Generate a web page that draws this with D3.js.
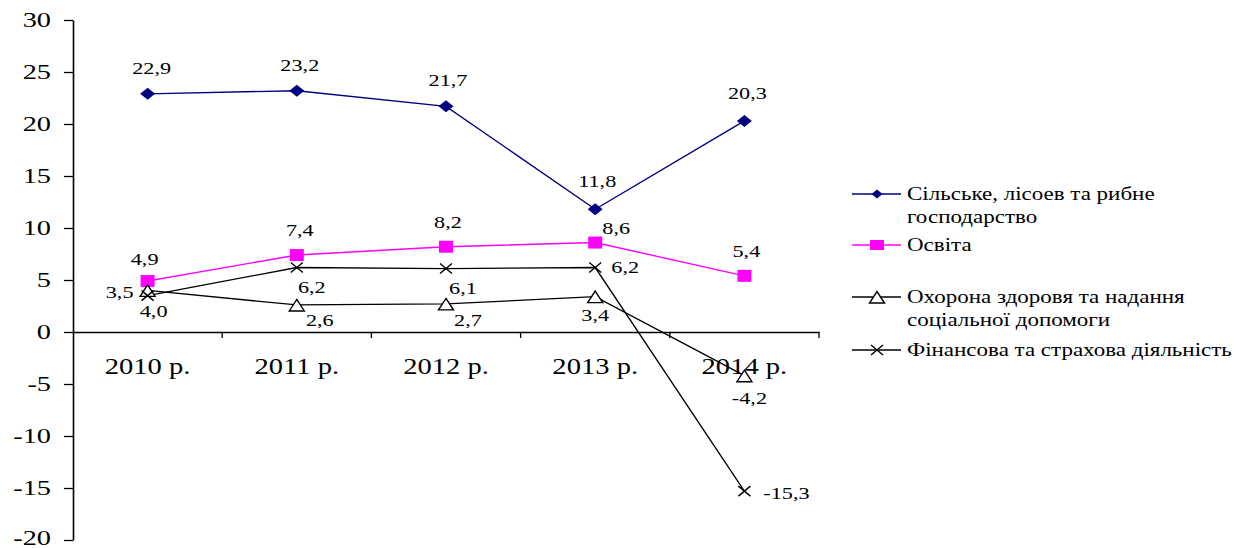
<!DOCTYPE html>
<html>
<head>
<meta charset="utf-8">
<script src="https://cdn.jsdelivr.net/npm/d3@7"></script>
<style>
  body { margin: 0; background: #fff; }
  svg { display: block; }
</style>
</head>
<body>
<svg id="chart" width="1242" height="548"></svg>
<script>
// ---- data ----
const years = ["2010 р.", "2011 р.", "2012 р.", "2013 р.", "2014 р."];
const agriculture = [22.9, 23.2, 21.7, 11.8, 20.3];
const education = [4.9, 7.4, 8.2, 8.6, 5.4];
const health = [4.0, 2.6, 2.7, 3.4, -4.2];
const finance = [3.5, 6.2, 6.1, 6.2, -15.3];
const yTicks = [-20, -15, -10, -5, 0, 5, 10, 15, 20, 25, 30];
const legendNames = [
  ["Сільське, лісоев та рибне", "господарство"],
  ["Освіта"],
  ["Охорона здоровя та надання", "соціальної допомоги"],
  ["Фінансова та страхова діяльність"]
];

// ---- layout of value labels relative to their point (px) ----
const labelOffsets = [
  [[4, -26], [3, -26], [2, -26], [2, -28], [3, -28]],
  [[-3, -22], [3, -25], [2, -25], [21, -14], [2, -25]],
  [[6, 21], [23, 15], [22, 16], [0, 19], [5, 23]],
  [[-28, -3], [15, 20], [17, 20], [30, 0], [42, 2]]
];

const FONT = "'Liberation Serif', 'Times New Roman', 'DejaVu Serif', serif";
const SX = 1.27;        // horizontal stretch of glyphs and markers
const SX_TICK = 1.35;   // y tick label stretch
const SX_LEGEND = 1.18; // legend text stretch
const fmt = v => v.toFixed(1).replace(".", ",");

const svg = d3.select("#chart").attr("font-family", FONT);

const x = d3.scaleBand().domain(years).range([73, 819]).padding(0);
const y = d3.scaleLinear().domain([-20, 30]).range([540, 20]);
const cx = i => x(years[i]) + x.bandwidth() / 2;

// ---- y axis ----
const gy = svg.append("g")
  .attr("transform", "translate(73,0)")
  .call(d3.axisLeft(y).tickValues(yTicks).tickSize(9).tickSizeOuter(0).tickFormat(d => String(d)));
gy.attr("font-family", FONT).attr("font-size", null);
gy.select(".domain").attr("stroke", "#000").attr("stroke-width", 1.6);
gy.selectAll(".tick line").attr("stroke", "#000").attr("stroke-width", 1.3);
gy.selectAll(".tick text")
  .attr("x", -22 / SX_TICK)
  .attr("dy", d => d === -20 ? "0.2em" : "0.33em")
  .attr("transform", `scale(${SX_TICK},1)`)
  .attr("font-family", FONT)
  .attr("font-size", 21)
  .attr("fill", "#000");

// ---- x axis at zero ----
const gx = svg.append("g")
  .attr("transform", `translate(0,${y(0)})`)
  .call(d3.axisBottom(x).tickSize(0).tickSizeOuter(0));
gx.attr("font-family", FONT).attr("font-size", null);
gx.select(".domain").attr("stroke", "#000").attr("stroke-width", 1.6);
gx.selectAll(".tick text")
  .attr("y", 35)
  .attr("dy", "0.33em")
  .attr("transform", `scale(${SX},1)`)
  .attr("font-family", FONT)
  .attr("font-size", 22.5)
  .attr("fill", "#000");
// category boundary ticks
gx.selectAll(".bound")
  .data(years.map(d => x(d) + x.bandwidth()))
  .enter().append("line")
  .attr("class", "bound")
  .attr("x1", d => d).attr("x2", d => d)
  .attr("y1", 0).attr("y2", 6)
  .attr("stroke", "#000").attr("stroke-width", 1.3);

// ---- marker shapes ----
const markers = {
  diamond: "M0,-6L7.5,0L0,6L-7.5,0Z",
  square: "M-7,-6H7V6H-7Z",
  triangle: "M0,-5.5L7.5,6L-7.5,6Z",
  cross: "M-6,-5L6,5M6,-5L-6,5"
};
const legendMarkers = {
  diamond: "M0,-4.5L5.5,0L0,4.5L-5.5,0Z",
  square: "M-7,-5H7V5H-7Z",
  triangle: markers.triangle,
  cross: markers.cross
};

const series = [
  { values: agriculture, color: "#000080", width: 1.4, marker: "diamond", fill: "#000080", stroke: "none" },
  { values: education, color: "#FF00FF", width: 1.4, marker: "square", fill: "#FF00FF", stroke: "none" },
  { values: health, color: "#000", width: 1.3, marker: "triangle", fill: "#fff", stroke: "#000" },
  { values: finance, color: "#000", width: 1.3, marker: "cross", fill: "none", stroke: "#000" }
];

const line = d3.line().x((d, i) => cx(i)).y(d => y(d));

const plot = svg.append("g");
series.forEach(s => {
  plot.append("path")
    .attr("d", line(s.values))
    .attr("fill", "none")
    .attr("stroke", s.color)
    .attr("stroke-width", s.width);
});

function drawMarker(g, s, px, py, shapes) {
  g.append("path")
    .attr("d", shapes[s.marker])
    .attr("transform", `translate(${px},${py})`)
    .attr("fill", s.fill)
    .attr("stroke", s.stroke)
    .attr("stroke-width", 1.4);
}

series.forEach(s => {
  s.values.forEach((v, i) => drawMarker(plot, s, cx(i), y(v), markers));
});

// ---- value labels ----
const labels = svg.append("g");
series.forEach((s, si) => {
  s.values.forEach((v, i) => {
    const [dx, dy] = labelOffsets[si][i];
    labels.append("text")
      .attr("transform", `translate(${cx(i) + dx},${y(v) + dy}) scale(${SX},1)`)
      .attr("text-anchor", "middle")
      .attr("dy", "0.33em")
      .attr("font-family", FONT)
      .attr("font-size", 17.5)
      .attr("fill", "#000")
      .text(fmt(v));
  });
});

// ---- legend ----
const legendRows = [194, 245, 297, 350];
const legend = svg.append("g");
series.forEach((s, si) => {
  const ly = legendRows[si];
  legend.append("line")
    .attr("x1", 852).attr("x2", 901)
    .attr("y1", ly).attr("y2", ly)
    .attr("stroke", s.color).attr("stroke-width", s.width);
  drawMarker(legend, s, 877, ly, legendMarkers);
  legendNames[si].forEach((t, k) => {
    legend.append("text")
      .attr("transform", `translate(907,${ly + k * 23}) scale(${SX_LEGEND},1)`)
      .attr("dy", "0.33em")
      .attr("font-family", FONT)
      .attr("font-size", 19.5)
      .attr("fill", "#000")
      .text(t);
  });
});
</script>
</body>
</html>
